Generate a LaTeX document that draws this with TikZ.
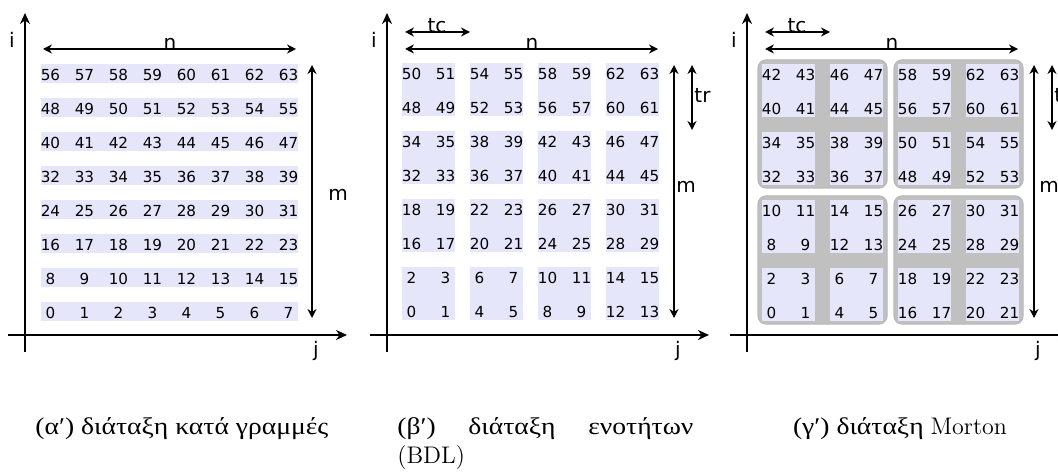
\documentclass[tikz,border=0pt]{standalone}
\usepackage{fontspec}
\newfontfamily\labelfont{DejaVu Sans}
\newfontfamily\greekfont[FakeStretch=1.15]{Liberation Serif}
\usepackage{xcolor}
\usetikzlibrary{arrows.meta}
\definecolor{cellblue}{HTML}{E6E6FA}
\definecolor{quadgray}{HTML}{C0C0C0}

\begin{document}
\begin{tikzpicture}[
    x=0.5pt, y=-0.5pt,
    num/.style={font=\labelfont\fontsize{7.6}{9}\selectfont, inner sep=0pt},
    lbl/.style={font=\labelfont\fontsize{10}{12}\selectfont, inner sep=0pt},
    band/.style={fill=cellblue},
    quad/.style={fill=quadgray, draw=gray!55, rounded corners=4pt, line width=0.6pt},
    axis/.style={-{Stealth[length=5.5pt,width=5pt]}, line width=0.85pt},
    dimarrow/.style={{Stealth[length=4.5pt,width=4.5pt]}-{Stealth[length=4.5pt,width=4.5pt]}, line width=0.7pt},
    capt/.style={font=\fontsize{12}{14.5}\selectfont, inner sep=0pt}
]
    \useasboundingbox (0,0) rectangle (1058,475);

    \foreach \X/\p in {25/a,387/b,747/c} {
        \coordinate (\p ybot) at (\X,352);
        \coordinate (\p ytop) at (\X,13);
        \coordinate (\p xl) at (\X-17,335);
        \coordinate (\p xr) at (\X+322,335);
        \draw[axis] (\p ybot) -- (\p ytop);
        \draw[axis] (\p xl) -- (\p xr);
        \node[lbl] (\p i) at (\X-13,40) {i};
        \node[lbl] (\p j) at (\X+291,351) {j};
        \coordinate (\p nl) at (\X+18,49);
        \coordinate (\p nr) at (\X+271,49);
        \draw[dimarrow] (\p nl) -- (\p nr);
        \node[lbl, anchor=base] (\p n) at (\X+145,50) {n};
        \coordinate (\p mt) at (\X+287,65);
        \coordinate (\p mb) at (\X+287,318);
        \draw[dimarrow] (\p mt) -- (\p mb);
    }
    \node[lbl] (am) at (338,195) {m};
    \node[lbl, anchor=west] (bm) at (676,187) {m};
    \node[lbl, anchor=west] (cm) at (1039,187) {m};

    \foreach \X/\p in {387/b,747/c} {
        \coordinate (\p tcl) at (\X+18,32);
        \coordinate (\p tcr) at (\X+83,32);
        \draw[dimarrow] (\p tcl) -- (\p tcr);
        \node[lbl, anchor=base] (\p tc) at (\X+50,33) {tc};
        \coordinate (\p trt) at (\X+305,65);
        \coordinate (\p trb) at (\X+305,130);
        \draw[dimarrow] (\p trt) -- (\p trb);
        \node[lbl, anchor=west] (\p tr) at (\X+307,95) {tr};
    }

    \foreach \r in {0,...,7}
        \fill[band] (41,64+34*\r) rectangle +(257,19);
    \foreach \bx in {0,...,3}
        \foreach \by in {0,...,3}
            \fill[band] (402+68*\bx,63+68*\by) rectangle +(53,53);
    \foreach \qx in {0,1}
        \foreach \qy in {0,1}
            \filldraw[quad] (758+136*\qx,60+136*\qy) rectangle +(129,128);
    \foreach \bx in {0,...,3}
        \foreach \by in {0,...,3}
            \fill[band] (762+68*\bx,64+68*\by) rectangle +(53,53);

    \foreach \r in {0,...,7}
        \foreach \c in {0,...,7} {
            \pgfmathtruncatemacro{\rb}{7-\r}
            \pgfmathtruncatemacro{\na}{\rb*8+\c}
            \pgfmathtruncatemacro{\nb}{(int(\rb/2)*4+int(\c/2))*4+mod(\rb,2)*2+mod(\c,2)}
            \pgfmathtruncatemacro{\nc}{mod(\c,2)+2*mod(\rb,2)+4*mod(int(\c/2),2)+8*mod(int(\rb/2),2)+16*int(\c/4)+32*int(\rb/4)}
            \node[num] (a\r\c) at (50.5+34*\c,75+34*\r) {\na};
            \node[num] (b\r\c) at (411.5+34*\c,74+34*\r) {\nb};
            \node[num] (c\r\c) at (771.5+34*\c,75+34*\r) {\nc};
        }

    \node[capt, anchor=base west] (capa) at (35,434) {\greekfont(α′) διάταξη κατά γραμμές};
    \node[capt, anchor=north west, text width=148pt, align=justify] (capb) at (397,417)
        {\greekfont(β′) διάταξη ενοτήτων\linebreak\rmfamily(BDL)};
    \node[capt, anchor=base] (capc) at (900,434) {\greekfont(γ′) διάταξη \rmfamily Morton};
\end{tikzpicture}
\end{document}
